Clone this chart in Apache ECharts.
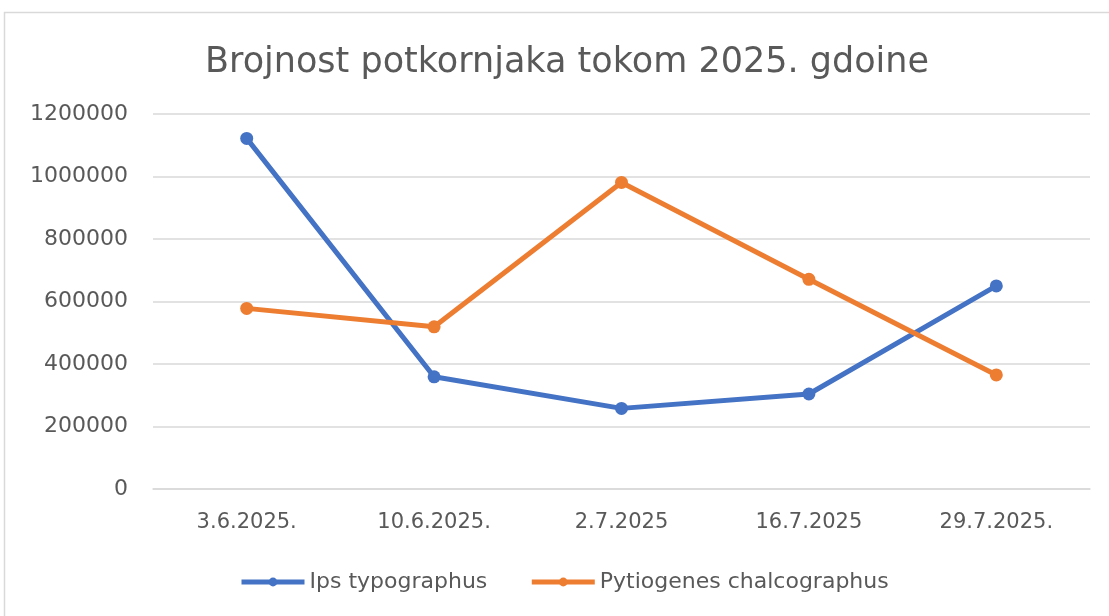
<!DOCTYPE html>
<html>
<head>
<meta charset="utf-8">
<script src="https://cdn.jsdelivr.net/npm/echarts@6/dist/echarts.min.js"></script>
<style>
  html, body { margin: 0; padding: 0; background: #fff; }
  #chart { width: 1109px; height: 616px; }
</style>
</head>
<body>
<div id="chart"></div>
<script>
// datumi uzorkovanja
const dates = ['3.6.2025.', '10.6.2025.', '2.7.2025', '16.7.2025', '29.7.2025.']
// broj jedinki po vrsti
const ipsTypographus = [1122000, 359000, 258000, 304000, 650000]
const pytiogenesChalcographus = [578000, 519000, 981000, 671000, 365000]
const seriesNames = ['Ips typographus', 'Pytiogenes chalcographus']

const textColor = '#595959'
const font = 'DejaVu Sans'

const chart = echarts.init(document.getElementById('chart'))

const option = {
  backgroundColor: '#fff',
  textStyle: { fontFamily: font, color: textColor },
  title: {
    text: 'Brojnost potkornjaka tokom 2025. gdoine',
    left: 200,
    top: 40,
    textStyle: { fontFamily: font, fontSize: 35, fontWeight: 'normal', color: textColor },
  },
  graphic: [
    {
      type: 'rect',
      shape: { x: 4.5, y: 12.5, width: 1120, height: 610 },
      style: { fill: 'none', stroke: '#d9d9d9', lineWidth: 1.5 },
      silent: true,
    },
  ],
  legend: {
    data: seriesNames,
    top: 566,
    left: 234,
    itemWidth: 63,
    itemHeight: 11,
    itemGap: 42,
    lineStyle: { width: 5 },
    textStyle: { fontFamily: font, fontSize: 22, color: textColor },
  },
  grid: {
    left: 153,
    right: 19,
    top: 114,
    bottom: 127,
  },
  xAxis: {
    type: 'category',
    data: dates,
    boundaryGap: true,
    axisTick: { show: false },
    axisLine: { lineStyle: { color: '#d9d9d9', width: 1.5 } },
    axisLabel: { color: textColor, fontSize: 21, margin: 23, fontFamily: font },
  },
  yAxis: {
    type: 'value',
    min: 0,
    max: 1200000,
    interval: 200000,
    axisLine: { show: false },
    axisTick: { show: false },
    axisLabel: {
      color: textColor,
      fontSize: 22,
      margin: 25,
      fontFamily: font,
      formatter: (value) => String(value),
    },
    splitLine: { lineStyle: { color: '#d9d9d9', width: 1.5 } },
  },
  series: [
    {
      name: seriesNames[0],
      type: 'line',
      data: ipsTypographus,
      symbol: 'circle',
      symbolSize: 13,
      lineStyle: { width: 5, color: '#4472C4' },
      itemStyle: { color: '#4472C4' },
    },
    {
      name: seriesNames[1],
      type: 'line',
      data: pytiogenesChalcographus,
      symbol: 'circle',
      symbolSize: 13,
      lineStyle: { width: 5, color: '#ED7D31' },
      itemStyle: { color: '#ED7D31' },
    },
  ],
}

chart.setOption(option)
</script>
</body>
</html>
